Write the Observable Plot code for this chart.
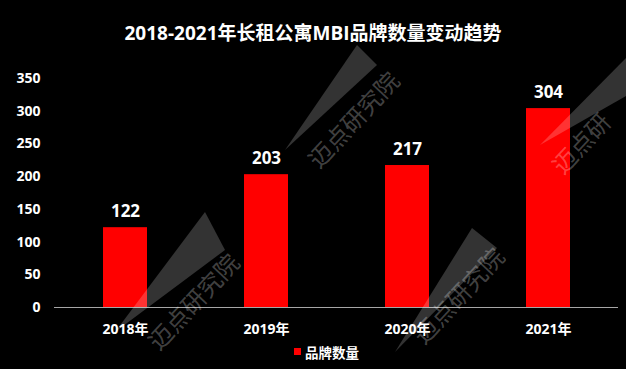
<!DOCTYPE html>
<html>
<head>
<meta charset="utf-8">
<script src="https://cdn.jsdelivr.net/npm/d3@7"></script>
<script src="https://cdn.jsdelivr.net/npm/@observablehq/plot@0.6"></script>
<style>
  html, body { margin: 0; padding: 0; background: #000; }
  #wrap { position: relative; width: 626px; height: 369px; background: #000; overflow: hidden;
          font-family: "Open Sans", "Noto Sans CJK SC", sans-serif; }
  #title { height: 50px; line-height: 50px; padding-top: 8px; box-sizing: border-box; text-align: center; color: #fff;
           font-size: 19px; font-weight: bold; }
  #legend { height: 27px; display: flex; justify-content: center; align-items: flex-start; color: #fff;
            font-size: 13.5px; font-weight: bold; padding-left: 27px; box-sizing: border-box; }
  #legend .sw { display: inline-block; width: 7px; height: 7px; background: #ff0000; margin-right: 4px; margin-top: 6px; }
  #deco { position: absolute; left: 0; top: 0; pointer-events: none; }
  .wm { position: absolute; color: rgba(255,255,255,0.27); font-size: 24px; font-family: "Noto Sans CJK SC"; line-height: 34px;
        transform: rotate(-47deg); transform-origin: left center; white-space: nowrap; pointer-events: none; }
</style>
</head>
<body>
<div id="wrap">
  <div id="title">2018-2021年长租公寓MBI品牌数量变动趋势</div>
  <div id="chart"></div>
  <div id="legend"><span class="sw"></span><span>品牌数量</span></div>
  <svg id="deco" width="626" height="369">
    <g fill="#fff" fill-opacity="0.2">
      <polygon points="285,150 357,45 377,65"></polygon>
      <polygon points="540,145 626,58 626,96"></polygon>
      <polygon points="115,332 205,212 225,250"></polygon>
      <polygon points="395,352 472,228 497,248"></polygon>
    </g>
  </svg>
  <div class="wm" style="left:312px; top:146px;">迈点研究院</div>
  <div class="wm" style="left:556px; top:152px;">迈点研</div>
  <div class="wm" style="left:152px; top:328px;">迈点研究院</div>
  <div class="wm" style="left:417px; top:322px;">迈点研究院</div>
</div>
<script>
const years = ["2018年", "2019年", "2020年", "2021年"];
const counts = [122, 203, 217, 304];
const yTicks = [0, 50, 100, 150, 200, 250, 300, 350];
const seriesName = "品牌数量";

const data = years.map((year, i) => ({year, count: counts[i]}));

const chart = Plot.plot({
  width: 626,
  height: 292,
  marginLeft: 54,
  marginRight: 8,
  marginTop: 28,
  marginBottom: 35,
  style: {background: "transparent", color: "#fff", fontFamily: '"Open Sans", "Noto Sans CJK SC", sans-serif',
          fontSize: "14px", fontWeight: "bold", overflow: "visible"},
  x: {domain: years, paddingInner: 0.69, paddingOuter: 0.345, label: null, tickSize: 0, tickPadding: 17},
  y: {domain: [0, 350], ticks: yTicks, label: null, tickSize: 0, tickPadding: 14},
  marks: [
    Plot.barY(data, {x: "year", y: "count", fill: "#ff0000"}),
    Plot.ruleY([0], {stroke: "#a6a6a6", strokeWidth: 1}),
    Plot.text(data, {x: "year", y: "count", text: d => String(d.count), dy: -16, fontSize: 17, fill: "#fff", fontWeight: "bold"})
  ]
});
document.getElementById("chart").appendChild(chart);
</script>
</body>
</html>
